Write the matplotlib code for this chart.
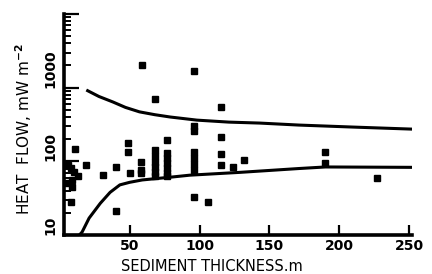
import matplotlib.pyplot as plt
from matplotlib.ticker import LogLocator, FixedLocator, NullFormatter

# data
pt_x = [6, 8, 10, 13, 9, 6, 9, 8, 11, 19, 31, 40, 40,
        49, 49, 50, 58, 58, 58,
        68, 68, 68, 68, 68, 68,
        77, 77, 77, 77, 77, 77, 77,
        96, 96, 96, 96, 96, 96, 96, 106,
        115, 115, 115, 115, 124, 132, 190, 190, 227,
        59, 96, 68]
pt_y = [89, 81, 71, 63, 56, 51, 45, 28, 147, 89, 65, 84, 21,
        177, 134, 69, 98, 76, 69,
        142, 118, 98, 84, 71, 63,
        195, 130, 111, 95, 81, 69, 63,
        300, 255, 134, 111, 92, 76, 33, 28,
        545, 214, 126, 89, 84, 104, 134, 95, 59,
        2030, 1680, 700]

upper_x = [19, 28, 38, 47, 57, 68, 79, 98, 121, 143, 171, 210, 252]
upper_y = [930, 760, 640, 540, 470, 430, 400, 363, 341, 331, 311, 292, 274]
lower_x = [14, 16, 21, 29, 36, 43, 50, 59, 79, 93, 129, 171, 190, 252]
lower_y = [10, 11, 17, 27, 38, 48, 52, 56, 61, 65, 71, 80, 84, 83]

x_ticks = [50, 100, 150, 200, 250]
y_ticks = [10, 100, 1000, 10000]
y_tick_labels = ['10', '100', '1000', '']

plt.rcParams['font.weight'] = 'bold'

fig = plt.figure(figsize=(4.32, 2.74), dpi=100)
ax = fig.add_axes([0.148, 0.142, 0.806, 0.807])

ax.plot(upper_x, upper_y, '-k', linewidth=2.2, solid_capstyle='butt')
ax.plot(lower_x, lower_y, '-k', linewidth=2.2, solid_capstyle='butt')
ax.plot(pt_x, pt_y, 'sk', markersize=3.8, linestyle='none')

ax.set_yscale('log')
ax.set_xlim(3, 252)
ax.set_ylim(10, 10000)

ax.spines['top'].set_visible(False)
ax.spines['right'].set_visible(False)
ax.spines['left'].set_linewidth(2.6)
ax.spines['bottom'].set_linewidth(2.6)

ax.xaxis.set_major_locator(FixedLocator(x_ticks))
ax.tick_params(axis='x', which='major', direction='in', length=7, width=1.6,
               labelsize=10, pad=3)
ax.tick_params(axis='x', which='minor', length=0)

ax.yaxis.set_major_locator(FixedLocator(y_ticks))
ax.set_yticklabels(y_tick_labels, rotation=90, va='bottom')
ax.yaxis.set_minor_locator(LogLocator(base=10, subs=range(2, 10)))
ax.yaxis.set_minor_formatter(NullFormatter())
ax.tick_params(axis='y', which='major', direction='in', length=11, width=1.6,
               labelsize=10, pad=5)
ax.tick_params(axis='y', which='minor', direction='in', length=5, width=1.4)

ax.set_xlabel('SEDIMENT THICKNESS.m', fontsize=10.5)
ax.xaxis.set_label_coords(0.425, -0.11)
ax.set_ylabel(r'HEAT  FLOW, mW m$^{\mathbf{-2}}$', fontsize=11)
ax.yaxis.set_label_coords(-0.085, 0.48)

fig.savefig('out.png', dpi=100)
